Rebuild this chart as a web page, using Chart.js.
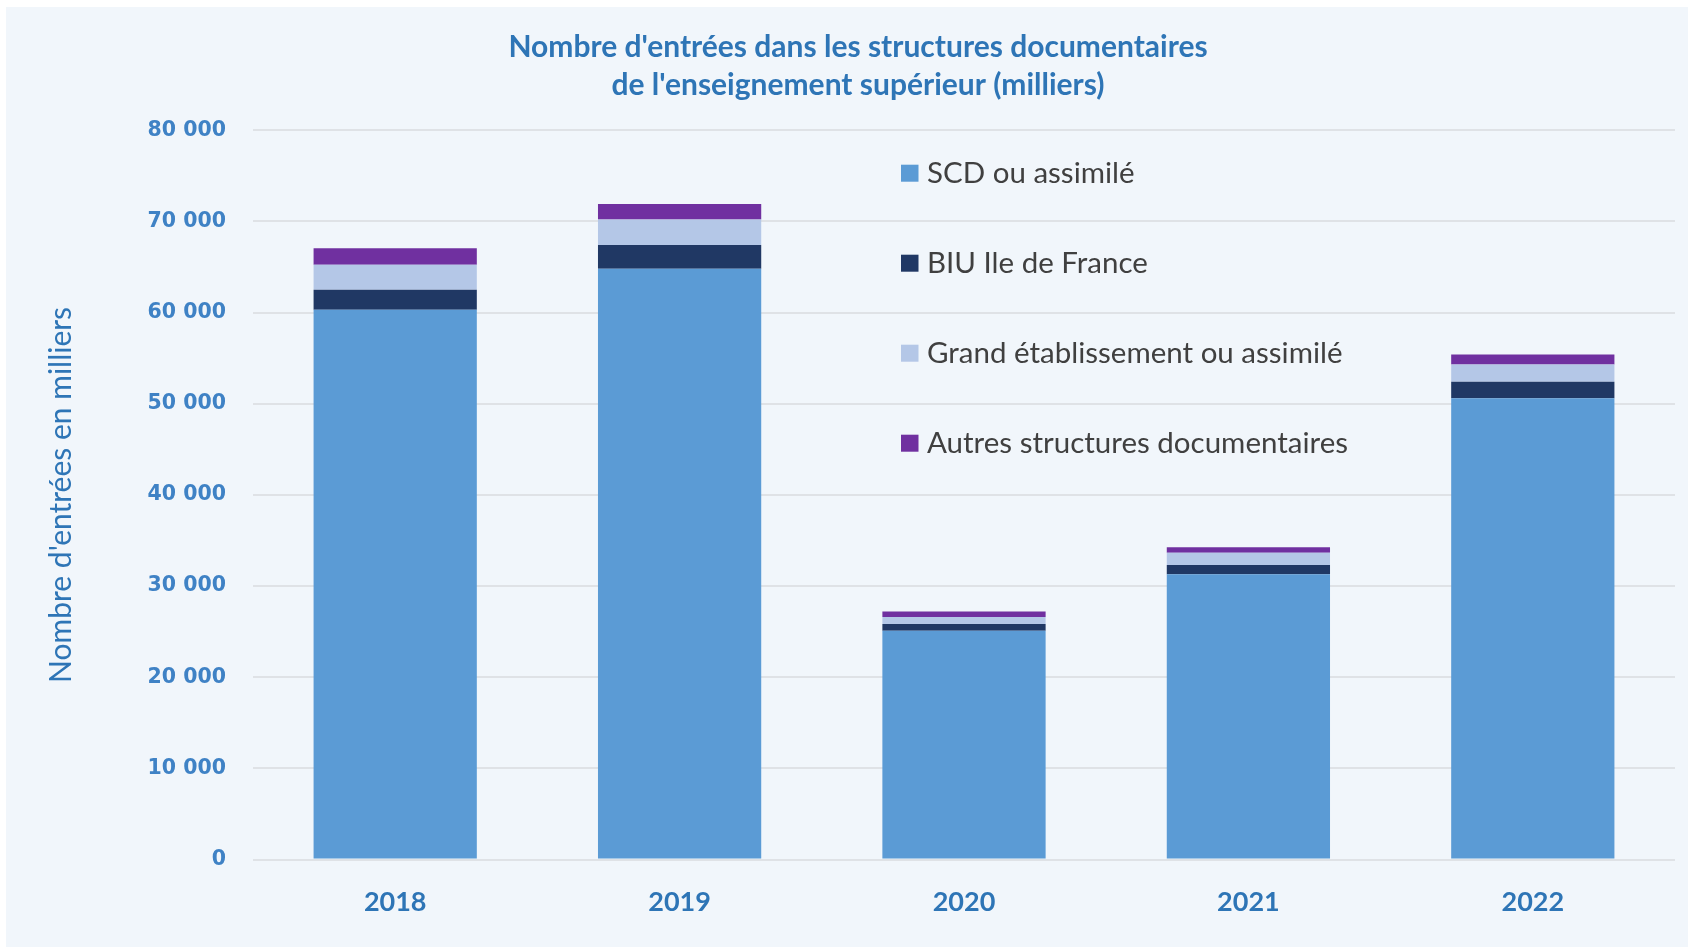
<!DOCTYPE html>
<html>
<head>
<meta charset="utf-8">
<script src="https://cdn.jsdelivr.net/npm/chart.js@4"></script>
<style>
  html, body { margin: 0; padding: 0; background: #ffffff; }
  #panel { position: absolute; left: 6px; top: 7px; width: 1682px; height: 940px; background: #f1f6fb; }
</style>
</head>
<body>
<div id="panel"><canvas id="chart" width="1682" height="940"></canvas></div>
<script>
// Data (milliers d'entrées)
const years = ['2018', '2019', '2020', '2021', '2022'];
const scd = [60300, 64800, 25100, 31300, 50600];
const biu = [2200, 2600, 750, 1000, 1800];
const grand = [2750, 2800, 750, 1350, 1900];
const autres = [1800, 1700, 600, 600, 1100];
const seriesNames = ['SCD ou assimilé', 'BIU Ile de France', 'Grand établissement ou assimilé', 'Autres structures documentaires'];
const seriesColors = ['#5b9bd5', '#203864', '#b4c7e7', '#7030a0'];
const titleLines = ["Nombre d'entrées dans les structures documentaires", "de l'enseignement supérieur (milliers)"];
const yTitle = "Nombre d'entrées en milliers";

const blue = '#2e75b6';
const tickBlue = '#3f82c5';

const fmt = v => String(v).replace(/\B(?=(\d{3})+(?!\d))/g, ' ');

// Legend drawn inside the plot area, stacked vertically
const innerLegend = {
    id: 'innerLegend',
    afterDraw(chart) {
        const { ctx, chartArea } = chart;
        const x = chartArea.left + 648;
        ctx.save();
        ctx.font = '29.5px Lato';
        ctx.textBaseline = 'middle';
        chart.data.datasets.forEach((ds, i) => {
            const y = chartArea.top + 43 + i * 90;
            ctx.fillStyle = ds.backgroundColor;
            ctx.fillRect(x, y - 8.5, 17.5, 17);
            ctx.fillStyle = '#404040';
            ctx.fillText(ds.label, x + 26, y);
        });
        ctx.restore();
    }
};

const ctx = document.getElementById('chart').getContext('2d');
const datasets = [scd, biu, grand, autres].map((d, i) => ({
    label: seriesNames[i],
    data: d,
    backgroundColor: seriesColors[i],
    borderWidth: 0,
    barPercentage: 0.574,
    categoryPercentage: 1
}));

new Chart(ctx, {
    type: 'bar',
    data: { labels: years, datasets: datasets },
    options: {
        responsive: false,
        animation: false,
        layout: { padding: { left: 35, right: 13, top: 0, bottom: 3 } },
        plugins: {
            legend: { display: false },
            tooltip: { enabled: false },
            title: {
                display: true,
                text: titleLines,
                color: blue,
                font: { family: 'Lato', size: 30, weight: 'bold', lineHeight: 1.27 },
                padding: { top: 21, bottom: 26 }
            }
        },
        scales: {
            x: {
                stacked: true,
                grid: { display: false, drawTicks: false },
                border: { display: false },
                ticks: { color: blue, font: { family: 'Lato', size: 27, weight: 'bold' }, padding: 26 }
            },
            y: {
                stacked: true,
                min: 0,
                max: 80000,
                afterFit: s => { s.width = 212; },
                grid: { color: '#dfe2e6', lineWidth: 2, drawTicks: false },
                border: { display: false },
                ticks: {
                    stepSize: 10000,
                    color: tickBlue,
                    padding: 27,
                    font: { family: 'DejaVu Sans', size: 20.5, weight: 'bold' },
                    callback: v => fmt(v)
                },
                title: {
                    display: true,
                    text: yTitle,
                    color: blue,
                    font: { family: 'Lato', size: 30 },
                    padding: { top: 2 }
                }
            }
        }
    },
    plugins: [innerLegend]
});
</script>
</body>
</html>
